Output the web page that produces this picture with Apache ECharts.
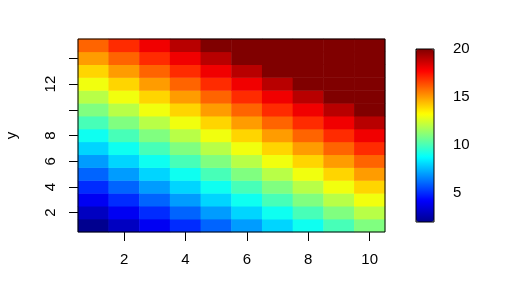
<!DOCTYPE html>
<html><head><meta charset="utf-8">
<script src="https://cdn.jsdelivr.net/npm/echarts@6/dist/echarts.min.js"></script>
<style>html,body{margin:0;padding:0;background:#fff}#c{width:507px;height:281px}</style>
</head><body><div id="c"></div>
<script>
// categories
const xCategories = ['1','2','3','4','5','6','7','8','9','10'];
const yCategories = ['1','2','3','4','5','6','7','8','9','10','11','12','13','14','15'];
// values per row (y = 1 .. 15)
const row1  = [2, 3, 4, 5, 6, 7, 8, 9, 10, 11];
const row2  = [3, 4, 5, 6, 7, 8, 9, 10, 11, 12];
const row3  = [4, 5, 6, 7, 8, 9, 10, 11, 12, 13];
const row4  = [5, 6, 7, 8, 9, 10, 11, 12, 13, 14];
const row5  = [6, 7, 8, 9, 10, 11, 12, 13, 14, 15];
const row6  = [7, 8, 9, 10, 11, 12, 13, 14, 15, 16];
const row7  = [8, 9, 10, 11, 12, 13, 14, 15, 16, 17];
const row8  = [9, 10, 11, 12, 13, 14, 15, 16, 17, 18];
const row9  = [10, 11, 12, 13, 14, 15, 16, 17, 18, 19];
const row10 = [11, 12, 13, 14, 15, 16, 17, 18, 19, 20];
const row11 = [12, 13, 14, 15, 16, 17, 18, 19, 20, 20];
const row12 = [13, 14, 15, 16, 17, 18, 19, 20, 20, 20];
const row13 = [14, 15, 16, 17, 18, 19, 20, 20, 20, 20];
const row14 = [15, 16, 17, 18, 19, 20, 20, 20, 20, 20];
const row15 = [16, 17, 18, 19, 20, 20, 20, 20, 20, 20];
const rows = [row1,row2,row3,row4,row5,row6,row7,row8,row9,row10,row11,row12,row13,row14,row15];
// tick labels
const xTickLabels = ['2','4','6','8','10'];
const yTickMarks = ['2','4','6','8','10','12','14'];
const yTickLabels = ['2','4','6','8','12'];
const legendTicks = [5, 10, 15, 20];
const zMin = 2, zMax = 20;
const jet = ['#00008F','#0000FF','#0080FF','#00FFFF','#80FF80','#FFFF00','#FF8000','#FF0000','#800000'];

const data = [];
rows.forEach((r, yi) => r.forEach((v, xi) => data.push([xi, yi, v])));

const font = 'Liberation Sans, Arial, Helvetica, sans-serif';
const chart = echarts.init(document.getElementById('c'), null, {renderer:'canvas'});
chart.setOption({
  animation: false,
  backgroundColor: '#fff',
  grid: [
    {left:78, top:39, width:307, height:193, show:true, borderColor:'#000', borderWidth:1, backgroundColor:'transparent', z:5, containLabel:false, outerBoundsMode:'none'},
    {left:416, top:49, width:18, height:173, show:true, borderColor:'#000', borderWidth:1, backgroundColor:'transparent', z:5, containLabel:false, outerBoundsMode:'none'}
  ],
  xAxis: [
    {gridIndex:0, type:'category', data:xCategories, position:'bottom',
     axisLine:{show:false}, splitLine:{show:false},
     axisTick:{show:true, alignWithLabel:true, length:9, interval:(i,v)=>xTickLabels.includes(v), lineStyle:{color:'#000'}},
     axisLabel:{interval:(i,v)=>xTickLabels.includes(v), fontSize:15, color:'#000', margin:20, fontFamily:font}},
    {gridIndex:1, type:'value', show:false}
  ],
  yAxis: [
    {gridIndex:0, type:'category', data:yCategories,
     name:'y', nameLocation:'middle', nameGap:59, nameRotate:90,
     nameTextStyle:{fontSize:15, color:'#000', fontFamily:font},
     axisLine:{show:false}, splitLine:{show:false},
     axisTick:{show:true, alignWithLabel:true, length:9, interval:(i,v)=>yTickMarks.includes(v), lineStyle:{color:'#000'}},
     axisLabel:{interval:(i,v)=>yTickLabels.includes(v), rotate:90, fontSize:15, color:'#000', margin:20, fontFamily:font}},
    {gridIndex:1, type:'value', min:zMin, max:zMax, position:'right',
     axisLine:{show:false}, splitLine:{show:false},
     axisTick:{show:true, length:9, customValues:legendTicks, lineStyle:{color:'#000'}},
     axisLabel:{customValues:legendTicks, fontSize:15, color:'#000', margin:19, fontFamily:font}}
  ],
  visualMap: {
    type:'continuous', min:zMin, max:zMax, seriesIndex:0, calculable:false, hoverLink:false,
    inRange:{color:jet}, itemWidth:18, itemHeight:173, left:416, top:49, padding:0
  },
  series: [{
    type:'heatmap', xAxisIndex:0, yAxisIndex:0, data:data, emphasis:{disabled:true}, progressive:0
  }]
});
</script></body></html>
